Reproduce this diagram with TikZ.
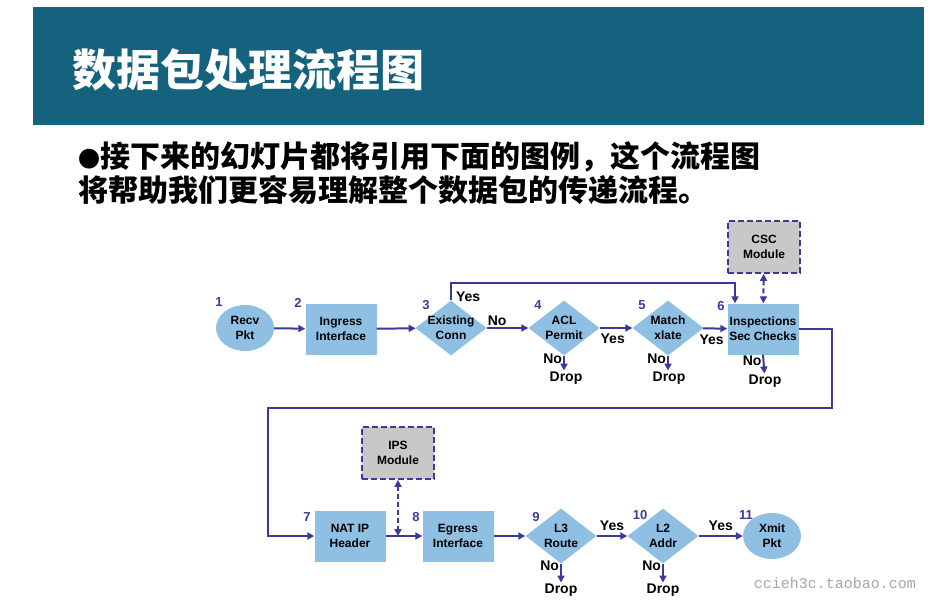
\documentclass[tikz,border=0pt]{standalone}
\usepackage{fontspec}
\setmainfont{Liberation Sans}
\newfontfamily\cjk{Noto Sans CJK SC}
\newfontfamily\wmfont{Liberation Mono}
\usetikzlibrary{arrows.meta,positioning,shapes.geometric}
\definecolor{banner}{HTML}{15627F}
\definecolor{boxblue}{HTML}{8FC0E4}
\definecolor{navy}{HTML}{3A3A9C}
\definecolor{modgray}{HTML}{C8C8C8}

\begin{document}
\begin{tikzpicture}[
  x=1pt,y=-1pt,
  box/.style={fill=boxblue,minimum width=71pt,minimum height=51pt,inner sep=0pt,align=center,font=\bfseries\fontsize{12}{15}\selectfont},
  oval/.style={ellipse,fill=boxblue,minimum width=58pt,minimum height=46pt,inner sep=0pt,align=center,font=\bfseries\fontsize{12}{15}\selectfont},
  dia/.style={diamond,fill=boxblue,minimum width=71pt,minimum height=55pt,inner sep=0pt},
  dtxt/.style={align=center,inner sep=0pt,font=\bfseries\fontsize{12}{15}\selectfont},
  mod/.style={draw=navy,line width=1.8pt,dash pattern=on 6pt off 3pt,fill=modgray,minimum width=72pt,minimum height=52pt,inner sep=0pt,align=center,font=\bfseries\fontsize{12}{15}\selectfont},
  num/.style={text=navy,inner sep=0pt,font=\bfseries\fontsize{13}{13}\selectfont},
  lbl/.style={inner sep=1pt,font=\bfseries\fontsize{14}{15}\selectfont},
  arr/.style={draw=navy,line width=2pt,-{Triangle[length=7pt,width=7pt]}},
  darr/.style={arr,dash pattern=on 5pt off 3pt,{Triangle[length=7pt,width=7pt]}-{Triangle[length=7pt,width=7pt]}}
]
\useasboundingbox (0,0) rectangle (950,610);

% Header
\node[fill=banner,minimum width=891pt,minimum height=118pt,inner sep=0pt] (bar) at (478.5,66) {};
\node[anchor=west,text=white,inner sep=0pt,font=\cjk\bfseries\fontsize{44}{44}\selectfont] (title) at (72,70) {数据包处理流程图};
\node[anchor=north west,align=left,inner sep=0pt,font=\cjk\bfseries\fontsize{30}{34}\selectfont] (intro) at (78,141)
  {{\fontsize{22}{22}\selectfont ●}接下来的幻灯片都将引用下面的图例，这个流程图\\将帮助我们更容易理解整个数据包的传递流程。};

% Row 1
\node[oval] (n1) at (245,328) {Recv\\Pkt};
\node[box] (n2) at (341,329) {Ingress\\Interface};
\node[dia,label={[dtxt]center:Existing\\Conn}] (n3) at (451,328) {};
\node[dia,label={[dtxt]center:ACL\\Permit}] (n4) at (564,328) {};
\node[dia,label={[dtxt]center:Match\\xlate}] (n5) at (668,328) {};
\node[box] (n6) at (763,329) {Inspections\\Sec Checks};
\node[mod] (csc) at (764,247) {CSC\\Module};

\node[num] (k1) at (219,302) {1};
\node[num] (k2) at (298,303) {2};
\node[num] (k3) at (426,305) {3};
\node[num] (k4) at (538,305) {4};
\node[num] (k5) at (642,305) {5};
\node[num] (k6) at (721,306) {6};

\node[lbl] (d4) at (566,378) {Drop};
\node[lbl] (d5) at (669,378) {Drop};
\node[lbl] (d6) at (765,381) {Drop};

% Row 2
\node[box] (n7) at (350,536) {NAT IP\\Header};
\node[box] (n8) at (458,536) {Egress\\Interface};
\node[mod] (ips) at (398,453) {IPS\\Module};
\node[dia,label={[dtxt]center:L3\\Route}] (n9) at (561,536) {};
\node[dia,label={[dtxt]center:L2\\Addr}] (n10) at (663,536) {};
\node[oval] (n11) at (772,536) {Xmit\\Pkt};

\node[num] (k7) at (307,517) {7};
\node[num] (k8) at (416,517) {8};
\node[num] (k9) at (536,517) {9};
\node[num] (k10) at (640,515) {10};
\node[num] (k11) at (746,515) {11};

\node[lbl] (d9) at (561,590) {Drop};
\node[lbl] (d10) at (663,590) {Drop};

\coordinate (r1) at (832,408);
\coordinate (r2) at (268,408);

\draw[arr] (n1) -- (n2);
\draw[arr] (n2) -- (n3);
\draw[arr] (n3.north) -- node[lbl,right,yshift=-5pt,xshift=3pt]{Yes} ++(0,-17) -| ([xshift=-28pt]n6.north);
\draw[arr] (n3) -- node[lbl,above,pos=0.25]{No} (n4);
\draw[arr] (n4) -- node[lbl,below,yshift=-4pt,pos=0.4]{Yes} (n5);
\draw[arr] (n5) -- node[lbl,below,yshift=-4pt,pos=0.35]{Yes} (n6);
\draw[arr] (n4.south) -- node[lbl,left,pos=0.2]{No} (n4.south |- d4.north);
\draw[arr] (n5.south) -- node[lbl,left,pos=0.2]{No} (n5.south |- d5.north);
\draw[arr] (n6.south) -- node[lbl,left,pos=0.3]{No} (d6);
\draw[darr] (csc) -- (n6);
\draw[arr] (n6.east) -| (r1) -- (r2) |- (n7.west);
\draw[arr] (n7) -- (n8);
\draw[darr] (ips.south) -- (ips.south |- n7.east);
\draw[arr] (n8) -- (n9);
\draw[arr] (n9) -- node[lbl,above,yshift=3pt]{Yes} (n10);
\draw[arr] (n10) -- node[lbl,above,yshift=3pt]{Yes} (n11);
\draw[arr] (n9.south) -- node[lbl,left,pos=0.1]{No} (n9.south |- d9.north);
\draw[arr] (n10.south) -- node[lbl,left,pos=0.1]{No} (n10.south |- d10.north);

\node[text=gray!70,inner sep=0pt,font=\wmfont\fontsize{15}{15}\selectfont] (wm) at (835,583) {ccieh3c.taobao.com};
\end{tikzpicture}
\end{document}
